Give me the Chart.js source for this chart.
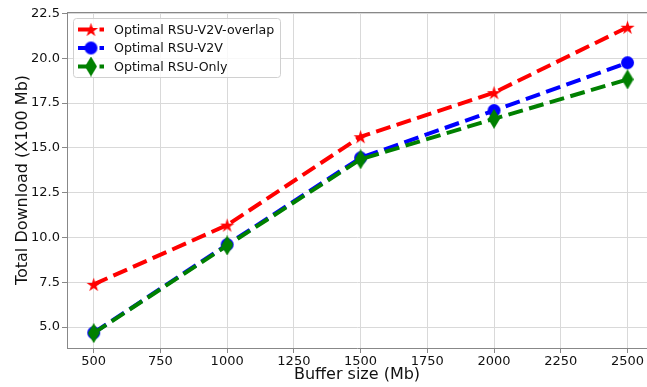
<!DOCTYPE html>
<html>
<head>
<meta charset="utf-8">
<script src="https://cdn.jsdelivr.net/npm/chart.js@4.4.1/dist/chart.umd.min.js"></script>
<style>
  html, body { margin: 0; padding: 0; background: #fff; }
  #wrap { width: 647px; height: 387px; position: relative; }
</style>
</head>
<body>
<div id="wrap"><canvas id="downloadChart"></canvas></div>
<script>
const bufferSizes = [500, 1000, 1500, 2000, 2500];
const overlapValues = [7.38, 10.69, 15.62, 18.08, 21.73];
const v2vValues = [4.68, 9.6, 14.44, 17.08, 19.75];
const rsuOnlyValues = [4.66, 9.55, 14.36, 16.62, 18.82];
const xTicks = [500, 750, 1000, 1250, 1500, 1750, 2000, 2250, 2500];
const yTicks = [5.0, 7.5, 10.0, 12.5, 15.0, 17.5, 20.0, 22.5];
const seriesNames = ['Optimal RSU-V2V-overlap', 'Optimal RSU-V2V', 'Optimal RSU-Only'];

const FONT = "'DejaVu Sans', sans-serif";
const DASH = [15, 6.5];

// marker images
function starMarker(color, r) {
    const c = document.createElement('canvas');
    const s = Math.ceil(r * 2 + 2);
    c.width = s; c.height = s;
    const g = c.getContext('2d');
    const cx = s / 2, cy = s / 2 + r * 0.1;
    g.beginPath();
    for (let i = 0; i < 10; i++) {
        const rad = i % 2 === 0 ? r : r * 0.382;
        const a = -Math.PI / 2 + i * Math.PI / 5;
        g.lineTo(cx + rad * Math.cos(a), cy + rad * Math.sin(a));
    }
    g.closePath();
    g.fillStyle = color;
    g.fill();
    return c;
}

function circleMarker(color, r) {
    const c = document.createElement('canvas');
    const s = Math.ceil(r * 2 + 2);
    c.width = s; c.height = s;
    const g = c.getContext('2d');
    g.beginPath();
    g.arc(s / 2, s / 2, r, 0, Math.PI * 2);
    g.fillStyle = color;
    g.fill();
    return c;
}

function diamondMarker(color, w, h) {
    const c = document.createElement('canvas');
    c.width = w; c.height = h;
    const g = c.getContext('2d');
    g.beginPath();
    g.moveTo(w / 2, 0);
    g.lineTo(w, h / 2);
    g.lineTo(w / 2, h);
    g.lineTo(0, h / 2);
    g.closePath();
    g.fillStyle = color;
    g.fill();
    return c;
}

const colors = ['#ff0000', '#0000ff', '#008000'];
const markers = [starMarker(colors[0], 7.5), circleMarker(colors[1], 6.5), diamondMarker(colors[2], 12, 20)];
const seriesValues = [overlapValues, v2vValues, rsuOnlyValues];

const datasets = seriesValues.map((vals, i) => ({
    label: seriesNames[i],
    data: bufferSizes.map((x, j) => ({ x: x, y: vals[j] })),
    borderColor: colors[i],
    backgroundColor: colors[i],
    borderWidth: 4,
    borderDash: DASH,
    borderCapStyle: 'butt',
    pointStyle: markers[i],
    tension: 0,
    clip: false,
    order: 3 - i
}));

// top spine and matplotlib-style legend
const framePlugin = {
    id: 'frame',
    afterDraw(chart) {
        const ctx = chart.ctx;
        const area = chart.chartArea;
        ctx.save();
        ctx.strokeStyle = '#888';
        ctx.lineWidth = 1;
        ctx.beginPath();
        ctx.moveTo(area.left, area.top + 0.5);
        ctx.lineTo(area.right, area.top + 0.5);
        ctx.stroke();

        const bx = 73.5, by = 18.5, bw = 207, bh = 59;
        ctx.fillStyle = 'rgba(255,255,255,0.8)';
        ctx.strokeStyle = '#d0d0d0';
        ctx.beginPath();
        ctx.roundRect(bx, by, bw, bh, 3);
        ctx.fill();
        ctx.stroke();

        const rows = [29.5, 48, 66.5];
        rows.forEach((y, i) => {
            ctx.strokeStyle = colors[i];
            ctx.lineWidth = 4;
            ctx.setLineDash(DASH);
            ctx.beginPath();
            ctx.moveTo(78, y);
            ctx.lineTo(104, y);
            ctx.stroke();
            ctx.setLineDash([]);
            const m = markers[i];
            ctx.drawImage(m, 91 - m.width / 2, y - m.height / 2);
            ctx.fillStyle = '#111';
            ctx.font = '12.6px ' + FONT;
            ctx.textBaseline = 'middle';
            ctx.textAlign = 'left';
            ctx.fillText(seriesNames[i], 114, y + 1);
        });
        ctx.restore();
    }
};

new Chart(document.getElementById('downloadChart'), {
    type: 'line',
    data: { datasets: datasets },
    options: {
        responsive: true,
        maintainAspectRatio: false,
        animation: false,
        events: [],
        layout: { autoPadding: false, padding: { top: 12, right: 0, bottom: 0, left: 0 } },
        plugins: { legend: { display: false }, tooltip: { enabled: false } },
        scales: {
            x: {
                type: 'linear',
                min: 400,
                max: 2573,
                afterBuildTicks: s => { s.ticks = xTicks.map(v => ({ value: v })); },
                afterFit: s => { s.height = 39; s.paddingLeft = 0; s.paddingRight = 0; },
                grid: { color: '#d9d9d9', tickColor: '#888', tickLength: 5 },
                border: { color: '#888', width: 1 },
                ticks: {
                    color: '#111',
                    font: { family: FONT, size: 13 },
                    padding: 1,
                    maxRotation: 0,
                    autoSkip: false,
                    callback: v => String(v)
                },
                title: {
                    display: true,
                    text: 'Buffer size (Mb)',
                    color: '#111',
                    font: { family: FONT, size: 16 },
                    padding: { top: 0, bottom: 3 }
                }
            },
            y: {
                min: 3.83,
                max: 22.58,
                afterBuildTicks: s => { s.ticks = yTicks.map(v => ({ value: v })); },
                afterFit: s => { s.width = 67; },
                grid: { color: '#d9d9d9', tickColor: '#888', tickLength: 5 },
                border: { color: '#888', width: 1 },
                ticks: {
                    color: '#111',
                    font: { family: FONT, size: 13 },
                    padding: 2,
                    autoSkip: false,
                    callback: v => v.toFixed(1)
                },
                title: {
                    display: true,
                    text: 'Total Download (X100 Mb)',
                    color: '#111',
                    font: { family: FONT, size: 16 },
                    padding: { top: 13, bottom: 0 }
                }
            }
        }
    },
    plugins: [framePlugin]
});
</script>
</body>
</html>
